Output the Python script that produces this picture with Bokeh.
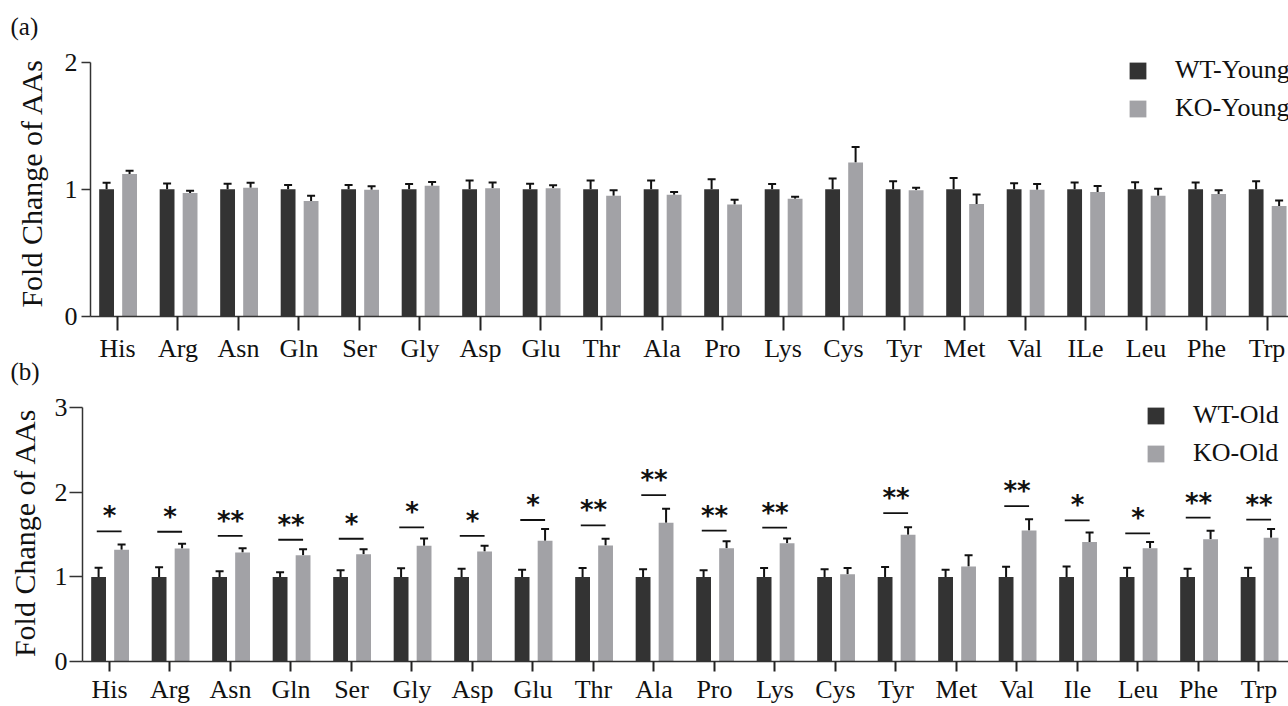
from bokeh.plotting import figure
from bokeh.models import ColumnDataSource, FixedTicker, Range1d, Legend, LegendItem, Title
from bokeh.layouts import column
from bokeh.embed import file_html
from bokeh.resources import INLINE
from bokeh.core.properties import value

# ---------------- data ----------------
cats_a = ["His", "Arg", "Asn", "Gln", "Ser", "Gly", "Asp", "Glu", "Thr", "Ala",
          "Pro", "Lys", "Cys", "Tyr", "Met", "Val", "ILe", "Leu", "Phe", "Trp"]
cats_b = ["His", "Arg", "Asn", "Gln", "Ser", "Gly", "Asp", "Glu", "Thr", "Ala",
          "Pro", "Lys", "Cys", "Tyr", "Met", "Val", "Ile", "Leu", "Phe", "Trp"]

wt_young = [1.0, 1.0, 1.0, 1.0, 1.0, 1.0, 1.0, 1.0, 1.0, 1.0,
            1.0, 1.0, 1.0, 1.0, 1.0, 1.0, 1.0, 1.0, 1.0, 1.0]
wt_young_err = [0.052, 0.047, 0.045, 0.034, 0.034, 0.042, 0.069, 0.045, 0.069, 0.069,
                0.079, 0.042, 0.085, 0.063, 0.090, 0.048, 0.053, 0.056, 0.053, 0.063]
ko_young = [1.121, 0.971, 1.013, 0.908, 0.997, 1.029, 1.008, 1.008, 0.950, 0.958,
            0.881, 0.926, 1.212, 0.992, 0.884, 0.997, 0.979, 0.950, 0.963, 0.870]
ko_young_err = [0.026, 0.019, 0.039, 0.042, 0.027, 0.029, 0.045, 0.024, 0.042, 0.021,
                0.037, 0.016, 0.121, 0.021, 0.076, 0.045, 0.047, 0.055, 0.029, 0.043]

wt_old = [1.0, 1.0, 1.0, 1.0, 1.0, 1.0, 1.0, 1.0, 1.0, 1.0,
          1.0, 1.0, 1.0, 1.0, 1.0, 1.0, 1.0, 1.0, 1.0, 1.0]
wt_old_err = [0.107, 0.115, 0.067, 0.055, 0.079, 0.103, 0.096, 0.084, 0.104, 0.092,
              0.080, 0.104, 0.092, 0.116, 0.084, 0.120, 0.124, 0.108, 0.096, 0.108]
ko_old = [1.320, 1.336, 1.289, 1.257, 1.269, 1.368, 1.299, 1.426, 1.371, 1.641,
          1.339, 1.398, 1.032, 1.498, 1.124, 1.550, 1.414, 1.339, 1.446, 1.462]
ko_old_err = [0.063, 0.055, 0.051, 0.071, 0.059, 0.087, 0.068, 0.140, 0.079, 0.164,
              0.083, 0.056, 0.072, 0.088, 0.131, 0.131, 0.112, 0.075, 0.100, 0.104]

sig_marks = ["*", "*", "**", "**", "*", "*", "*", "*", "**", "**",
             "**", "**", "", "**", "", "**", "*", "*", "**", "**"]
sig_levels = [1.538, 1.534, 1.486, 1.439, 1.451, 1.585, 1.486, 1.673, 1.610, 1.968,
              1.546, 1.582, None, 1.753, None, 1.837, 1.669, 1.514, 1.701, 1.677]

# ---------------- style ----------------
WT_COLOR = "#333333"
KO_COLOR = "#a2a2a6"
SERIF = "Liberation Serif"
BAR_W = 0.245
WT_SHIFT = -0.18
KO_SHIFT = 0.20
CAP = 0.066


def make_panel(cats, wt, wt_err, ko, ko_err, names, ymax, ytop, height, x_start, x_end,
               border_left, border_top, border_bottom, xtick_len, xlab_standoff, ytick_len,
               ylab_standoff, ytick_standoff, tag_text, tag_offset, tag_standoff,
               legend_loc, legend_spacing):
    n = len(cats)
    xs = list(range(n))
    p = figure(width=1288, height=height, output_backend="svg", toolbar_location=None,
               x_range=Range1d(x_start, x_end), y_range=Range1d(0, ytop),
               min_border_left=border_left, min_border_right=0,
               min_border_top=border_top, min_border_bottom=border_bottom)
    try:
        if "frame_align" in p.properties():
            p.frame_align = False
    except Exception:
        pass
    p.outline_line_color = None
    p.grid.visible = False
    p.background_fill_color = "white"
    p.border_fill_alpha = 0

    wt_x = [x + WT_SHIFT for x in xs]
    ko_x = [x + KO_SHIFT for x in xs]
    src = ColumnDataSource(dict(
        wt_x=wt_x, ko_x=ko_x, wt=wt, ko=ko,
        wt_top=[v + e for v, e in zip(wt, wt_err)],
        ko_top=[v + e for v, e in zip(ko, ko_err)],
        wt_c0=[x - CAP for x in wt_x], wt_c1=[x + CAP for x in wt_x],
        ko_c0=[x - CAP for x in ko_x], ko_c1=[x + CAP for x in ko_x],
    ))
    # error bars (under bars so only the upper half shows)
    p.segment("wt_x", "wt", "wt_x", "wt_top", source=src, line_color="#111111", line_width=2)
    p.segment("wt_c0", "wt_top", "wt_c1", "wt_top", source=src, line_color="#111111", line_width=2)
    p.segment("ko_x", "ko", "ko_x", "ko_top", source=src, line_color="#111111", line_width=2)
    p.segment("ko_c0", "ko_top", "ko_c1", "ko_top", source=src, line_color="#111111", line_width=2)
    r_wt = p.vbar(x="wt_x", top="wt", width=BAR_W, bottom=0, source=src,
                  fill_color=WT_COLOR, line_color=None)
    r_ko = p.vbar(x="ko_x", top="ko", width=BAR_W, bottom=0, source=src,
                  fill_color=KO_COLOR, line_color=None)

    # axes
    xa = p.xaxis[0]
    xa.ticker = FixedTicker(ticks=xs)
    xa.major_label_overrides = {i: c for i, c in enumerate(cats)}
    xa.major_label_text_font = SERIF
    xa.major_label_text_font_size = "26px"
    xa.major_label_text_color = "#111111"
    xa.major_label_standoff = xlab_standoff
    xa.axis_line_color = "#333333"
    xa.axis_line_width = 1.5
    xa.major_tick_line_color = "#222222"
    xa.major_tick_line_width = 2
    xa.major_tick_out = xtick_len
    xa.major_tick_in = 0
    xa.minor_tick_line_color = None

    ya = p.yaxis[0]
    ya.ticker = FixedTicker(ticks=list(range(ymax + 1)))
    ya.bounds = (0, ymax)
    ya.major_label_text_font = SERIF
    ya.major_label_text_font_size = "26px"
    ya.major_label_text_color = "#111111"
    ya.major_label_standoff = ytick_standoff
    ya.axis_line_color = "#333333"
    ya.axis_line_width = 1.5
    ya.major_tick_line_color = "#333333"
    ya.major_tick_line_width = 1.5
    ya.major_tick_out = ytick_len
    ya.major_tick_in = 0
    ya.minor_tick_line_color = None
    ya.axis_label = "Fold Change of AAs"
    ya.axis_label_text_font = SERIF
    ya.axis_label_text_font_size = "30px"
    ya.axis_label_text_font_style = "normal"
    ya.axis_label_text_color = "#111111"
    ya.axis_label_standoff = ylab_standoff

    legend = Legend(items=[LegendItem(label=names[0], renderers=[r_wt]),
                           LegendItem(label=names[1], renderers=[r_ko])],
                    location=legend_loc, orientation="vertical",
                    border_line_color=None, background_fill_alpha=0,
                    padding=0, margin=0, spacing=legend_spacing,
                    glyph_width=21, glyph_height=21, label_standoff=27,
                    label_text_font=SERIF, label_text_font_size="26px",
                    label_text_color="#111111")
    p.add_layout(legend)

    p.title = Title(text=tag_text, align="left", offset=tag_offset, standoff=tag_standoff,
                    vertical_align="bottom",
                    text_font=SERIF, text_font_size="25px", text_font_style="normal",
                    text_color="#111111")
    return p, xs


# panel (a)
pa, xs_a = make_panel(cats_a, wt_young, wt_young_err, ko_young, ko_young_err,
                      ["WT-Young", "KO-Young"], 2, 2.1, 366, -0.446, 19.355,
                      90, 49, 50, 14, 3, 9, 14, 4, "(a)", -80, 19, (1037, 193), 8)

# panel (b) (its top border overlaps the bottom of panel (a) so that its tag can sit high)
pb, xs_b = make_panel(cats_b, wt_old, wt_old_err, ko_old, ko_old_err,
                      ["WT-Old", "KO-Old"], 3, 3.05, 371, -0.446, 19.488,
                      82, 68, 45, 10, 3, 13, 11, 2, "(b)", -72, 38, (1063, 193), 8)
pb.margin = (-31, 0, 0, 0)

# significance markers for panel (b)
sig_idx = [i for i, m in enumerate(sig_marks) if m]
sig_src = ColumnDataSource(dict(
    x=[xs_b[i] for i in sig_idx],
    x0=[xs_b[i] + WT_SHIFT - 0.03 for i in sig_idx],
    x1=[xs_b[i] + KO_SHIFT for i in sig_idx],
    y=[sig_levels[i] for i in sig_idx],
    t=[sig_marks[i] for i in sig_idx],
))
pb.segment("x0", "y", "x1", "y", source=sig_src, line_color="#111111", line_width=1.8)
pb.text("x", "y", text="t", source=sig_src, text_align="center", text_baseline="alphabetic",
        y_offset=-15, text_font=value("DejaVu Sans"), text_font_style="bold",
        text_font_size="26px", text_color="#111111")

layout = column(pa, pb, spacing=0)
open("out.html", "w").write(file_html(layout, INLINE))
